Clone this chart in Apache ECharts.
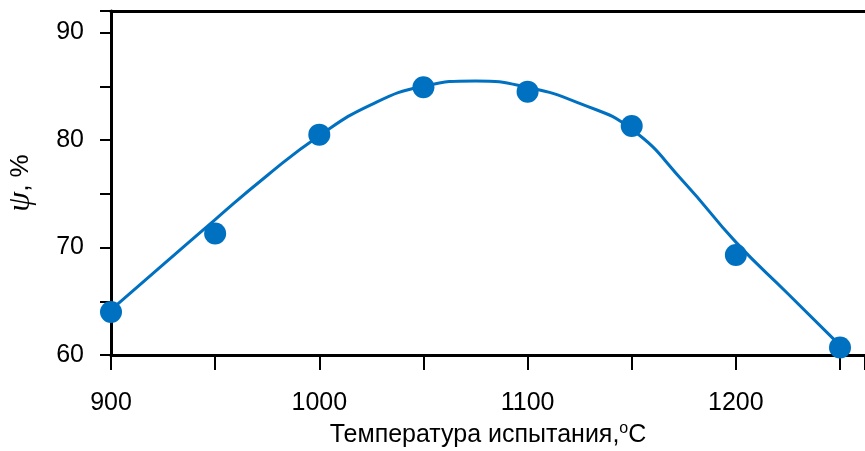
<!DOCTYPE html>
<html>
<head>
<meta charset="utf-8">
<script src="https://cdn.jsdelivr.net/npm/echarts@6/dist/echarts.min.js"></script>
<style>html,body{margin:0;padding:0;background:#fff}#c{width:865px;height:451px}</style>
</head>
<body>
<div id="c"></div>
<script>
// Measured points
const temps = [900, 950, 1000, 1050, 1100, 1150, 1200, 1250];
const psi = [64.0, 71.3, 80.5, 84.9, 84.5, 81.3, 69.3, 60.7];
// Fitted curve
const fitTemps = [900, 925, 950, 975, 1000, 1025, 1050, 1075, 1100, 1125, 1150, 1175, 1200, 1225, 1250];
const fitPsi = [64.2, 68.4, 72.6, 76.7, 80.4, 83.3, 85.0, 85.5, 84.9, 83.4, 81.0, 76.1, 70.5, 65.7, 60.9];
// Tick labels
const xTickLabels = [900, 1000, 1100, 1200];
const yTickLabels = [60, 70, 80, 90];

const blue = '#0070C0';
const chart = echarts.init(document.getElementById('c'));
chart.setOption({
  animation: false,
  backgroundColor: '#fff',
  grid: {left: 111, right: 0, top: 11, bottom: 96, containLabel: false, outerBoundsMode: 'none'},
  xAxis: [{
    type: 'value', min: 900, max: 1262, interval: 50,
    splitLine: {show: false},
    axisLine: {show: true, onZero: false, lineStyle: {color: '#000', width: 3}},
    axisTick: {show: true, length: 15, lineStyle: {color: '#000', width: 2}},
    axisLabel: {
      margin: 36, fontFamily: 'Liberation Sans, Arial', fontSize: 25, color: '#000',
      formatter: v => xTickLabels.indexOf(v) >= 0 ? String(v) : ''
    },
    name: 'Температура испытания,{sup|o}C',
    nameLocation: 'middle', nameGap: 65,
    nameTextStyle: {fontFamily: 'Liberation Sans, Arial', fontSize: 25, color: '#000',
      rich: {sup: {fontSize: 16, fontFamily: 'Liberation Sans, Arial', color: '#000', padding: [0, 0, 12, 0]}}}
  }, {
    type: 'value', position: 'top', min: 900, max: 1262,
    axisLine: {show: true, lineStyle: {color: '#000', width: 3}},
    axisTick: {show: false}, axisLabel: {show: false}, splitLine: {show: false}
  }],
  yAxis: {
    type: 'value', min: 60, max: 92, interval: 5,
    splitLine: {show: false},
    axisLine: {show: true, onZero: false, lineStyle: {color: '#000', width: 3}},
    axisTick: {show: true, length: 11, lineStyle: {color: '#000', width: 2}},
    axisLabel: {
      margin: 27, fontFamily: 'Liberation Sans, Arial', fontSize: 25, color: '#000',
      formatter: v => yTickLabels.indexOf(v) >= 0 ? String(v) : ''
    },
    name: '{g|ψ}, %',
    nameLocation: 'middle', nameGap: 74, nameRotate: 90,
    nameTextStyle: {fontFamily: 'Liberation Sans, Arial', fontSize: 26, color: '#000',
      rich: {g: {fontFamily: 'Liberation Serif, Times New Roman', fontStyle: 'italic', fontSize: 32, color: '#000'}}}
  },
  series: [{
    type: 'line', smooth: 0.5, symbol: 'none',
    data: fitTemps.map((t, i) => [t, fitPsi[i]]),
    lineStyle: {color: blue, width: 3}, z: 3
  }, {
    type: 'scatter', symbol: 'circle', symbolSize: 22,
    data: temps.map((t, i) => [t, psi[i]]),
    itemStyle: {color: blue, opacity: 1}, z: 4, clip: false
  }]
});
</script>
</body>
</html>
